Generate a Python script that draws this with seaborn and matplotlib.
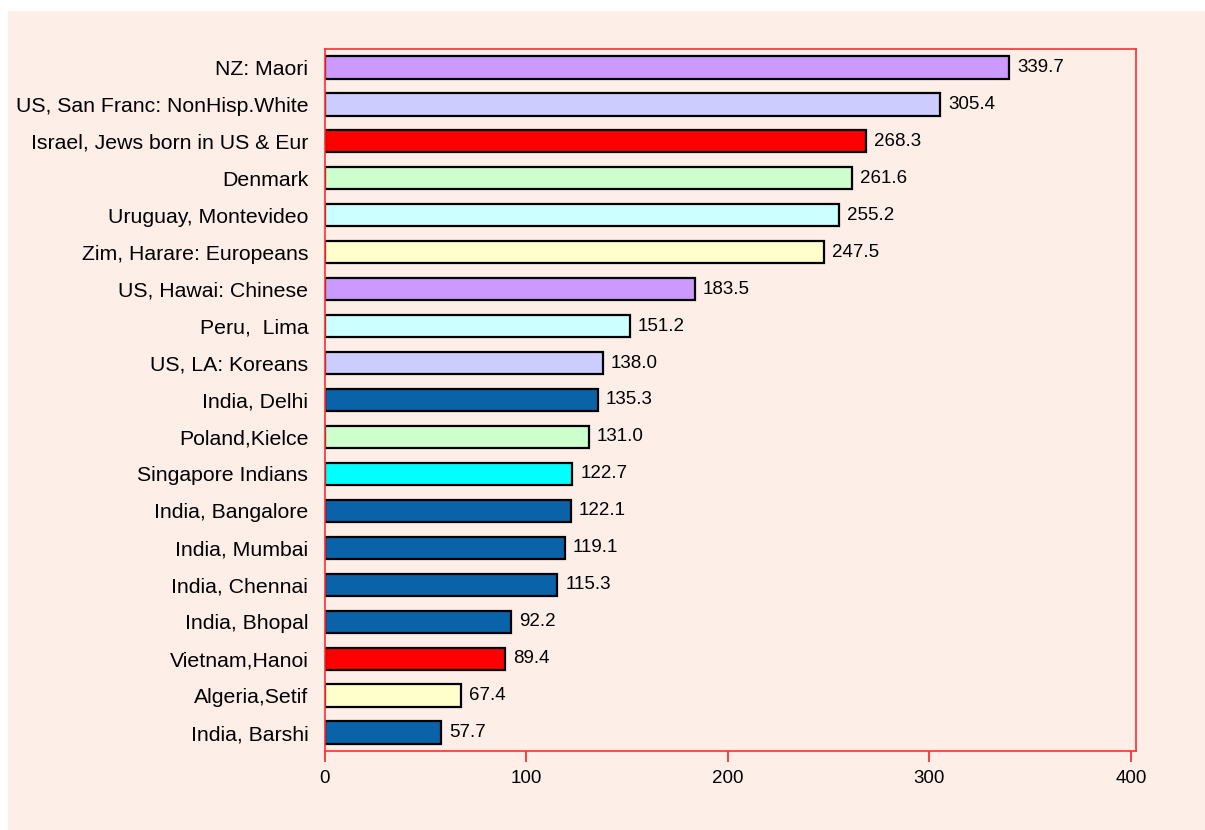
import matplotlib
matplotlib.use("Agg")
from matplotlib import pyplot as plt
from matplotlib.patches import Rectangle
import seaborn as sns
import pandas as pd

labels = ["NZ: Maori", "US, San Franc: NonHisp.White", "Israel, Jews born in US & Eur",
          "Denmark", "Uruguay, Montevideo", "Zim, Harare: Europeans", "US, Hawai: Chinese",
          "Peru,  Lima", "US, LA: Koreans", "India, Delhi", "Poland,Kielce",
          "Singapore Indians", "India, Bangalore", "India, Mumbai", "India, Chennai",
          "India, Bhopal", "Vietnam,Hanoi", "Algeria,Setif", "India, Barshi"]
values = [339.7, 305.4, 268.3, 261.6, 255.2, 247.5, 183.5, 151.2, 138.0, 135.3,
          131.0, 122.7, 122.1, 119.1, 115.3, 92.2, 89.4, 67.4, 57.7]
colors = ["#CC99FF", "#CCCCFF", "#FF0000", "#CCFFCC", "#CCFFFF", "#FFFFCC", "#CC99FF",
          "#CCFFFF", "#CCCCFF", "#0A62A8", "#CCFFCC", "#00FFFF", "#0A62A8", "#0A62A8",
          "#0A62A8", "#0A62A8", "#FF0000", "#FFFFCC", "#0A62A8"]
xticks = [0, 100, 200, 300, 400]

bg = "#FDEEE8"
sns.set_style("white")
plt.rcParams["font.family"] = ["Liberation Sans", "DejaVu Sans"]

df = pd.DataFrame({"label": labels, "value": values})

fig = plt.figure(figsize=(12.05, 8.3), dpi=100, facecolor="white")
# pink panel with a thin white band on top and left
fig.patches.append(Rectangle((8 / 1205, 0), 1, 1 - 11 / 830, transform=fig.transFigure,
                             facecolor=bg, edgecolor="none", zorder=-10))
ax = fig.add_axes([325 / 1205, 1 - 751 / 830, (1136 - 325) / 1205, (751 - 49) / 830])
ax.set_facecolor(bg)

sns.barplot(data=df, x="value", y="label", hue="label", palette=dict(zip(labels, colors)),
            orient="h", width=0.6, dodge=False, legend=False, saturation=1,
            edgecolor="black", linewidth=1.6, ax=ax)

for i, v in enumerate(values):
    ax.text(v + 4, i, "%.1f" % v, va="center", ha="left", fontsize=13.5, color="black")

ax.set_xlim(0, 402.5)
ax.set_ylim(18.5, -0.5)
ax.set_xticks(xticks)
ax.set_xlabel("")
ax.set_ylabel("")
for s in ax.spines.values():
    s.set_color("#FF3030")
    s.set_linewidth(1.2)
ax.tick_params(axis="x", direction="out", length=8, width=1.2, color="#FF2020",
               labelsize=13.5, labelcolor="black", pad=6, bottom=True)
ax.tick_params(axis="y", length=0, labelsize=15.3, labelcolor="black", pad=12)

fig.savefig("out.png", dpi=100, facecolor=fig.get_facecolor())
